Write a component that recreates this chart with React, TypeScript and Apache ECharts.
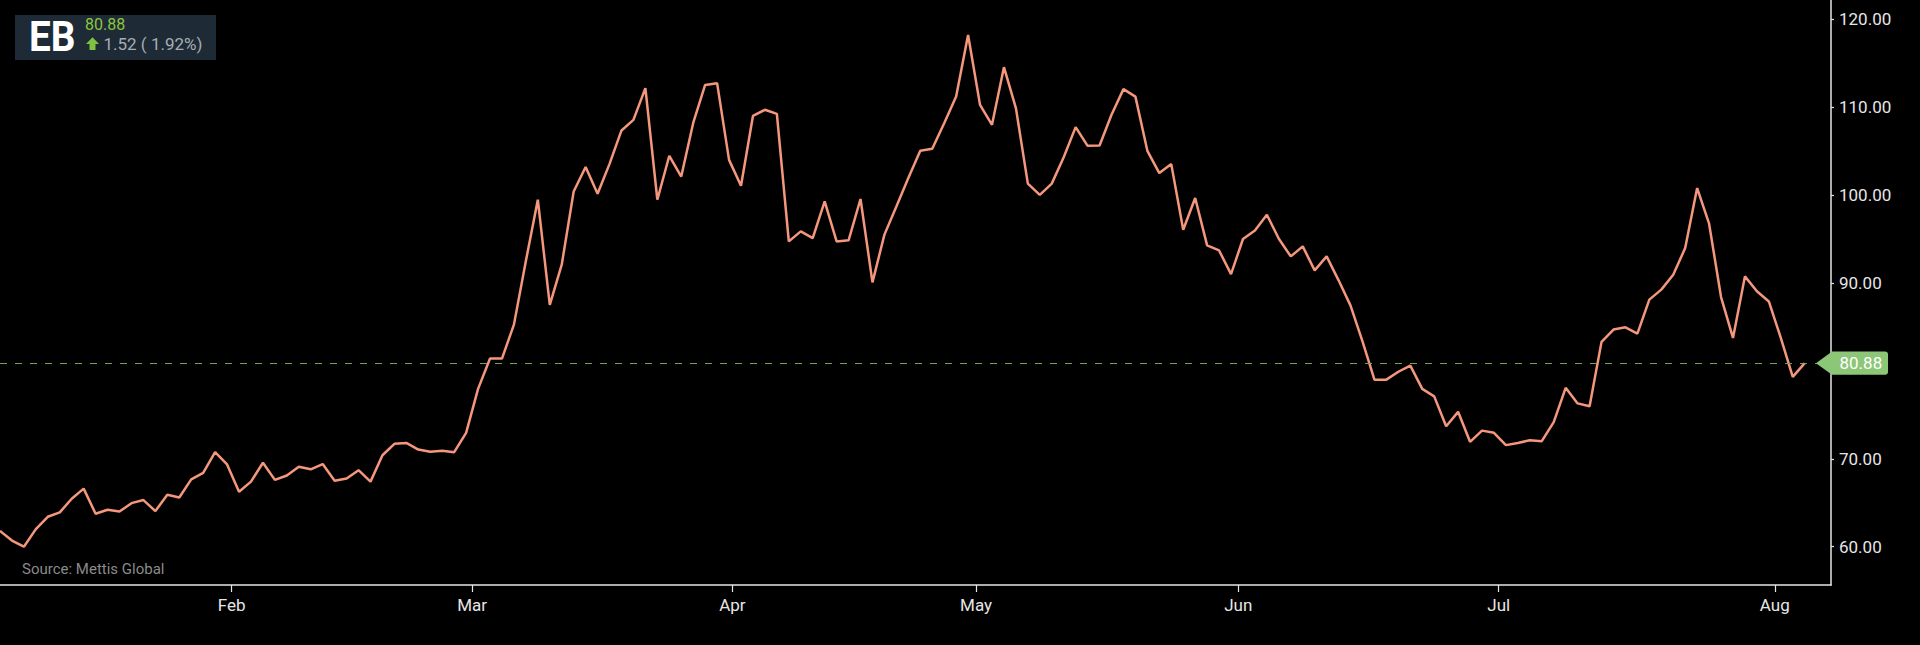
import React, { useEffect, useRef } from "react";
import * as echarts from "echarts";

const ticker = "EB";
const lastPrice = 80.88;
const changeAbs = 1.52;
const changePct = 1.92;
const sourceText = "Source: Mettis Global";

// daily closes (trading-day index order)
const prices = [
  61.8, 60.7, 60.0, 62.0, 63.4, 63.9, 65.45, 66.6, 63.75, 64.2,
  64.0, 64.95, 65.3, 64.05, 65.9, 65.6, 67.65, 68.4, 70.75, 69.35,
  66.25, 67.4, 69.55, 67.6, 68.1, 69.1, 68.8, 69.4, 67.5, 67.75,
  68.7, 67.4, 70.4, 71.7, 71.8, 71.05, 70.8, 70.9, 70.75, 72.95,
  77.95, 81.4, 81.4, 85.26, 92.5, 99.47, 87.5, 92.08, 100.4, 103.2,
  100.15, 103.55, 107.35, 108.55, 112.16, 99.47, 104.47, 102.1, 108.2, 112.53,
  112.73, 104.0, 101.05, 109.0, 109.7, 109.24, 94.73, 95.87, 95.1, 99.27,
  94.73, 94.85, 99.55, 90.07, 95.5, 98.7, 101.93, 105.03, 105.26, 108.18,
  111.2, 118.2, 110.26, 107.99, 114.55, 109.9, 101.3, 100.03, 101.3, 104.3,
  107.73, 105.6, 105.64, 109.13, 112.05, 111.2, 105.03, 102.5, 103.52, 96.06,
  99.66, 94.27, 93.7, 91.0, 95.0, 95.98, 97.76, 95.03, 93.02, 94.16,
  91.43, 93.02, 90.3, 87.42, 83.36, 79.0, 79.0, 79.9, 80.6, 77.95,
  77.1, 73.7, 75.34, 71.93, 73.2, 72.95, 71.55, 71.8, 72.1, 72.0,
  74.16, 78.07, 76.3, 75.98, 83.3, 84.7, 84.95, 84.24, 88.1, 89.24,
  90.94, 93.97, 100.8, 96.74, 88.4, 83.75, 90.75, 89.05, 87.9, 83.75,
  79.32, 80.88,
];

// month boundaries on the trading-day scale
const monthLabels = ["Feb", "Mar", "Apr", "May", "Jun", "Jul", "Aug"];
const monthTickPos = [19.39, 39.5, 61.28, 81.67, 103.6, 125.4, 148.5];

const yTickValues = [60, 70, 80, 90, 100, 110, 120];
const yLabelValues = [60, 70, 90, 100, 110, 120];

const xMax = 153.2;
const yMin = 55.64;
const yMax = 122.19;

export default function App() {
  const ref = useRef<HTMLDivElement>(null);

  useEffect(() => {
    document.body.style.margin = "0";
    document.body.style.background = "#000";
    const el = ref.current!;
    const chart = echarts.init(el, null, { renderer: "svg" });
    const data = prices.map((v, i) => [i, v]);
    const axisColor = "#e6e6e6";

    chart.setOption({
      animation: false,
      backgroundColor: "#000000",
      grid: { left: 0, right: 89, top: 0, bottom: 60 },
      xAxis: {
        type: "value",
        min: 0,
        max: xMax,
        axisLine: { show: true, onZero: false, lineStyle: { color: axisColor, width: 1.5 } },
        axisTick: {
          show: true,
          customValues: monthTickPos,
          length: 7,
          lineStyle: { color: axisColor, width: 1.2 },
        },
        axisLabel: {
          customValues: monthTickPos,
          formatter: (v: number) => {
            const i = monthTickPos.findIndex((p) => Math.abs(p - v) < 1e-6);
            return i >= 0 ? monthLabels[i] : "";
          },
          color: axisColor,
          fontFamily: "Roboto",
          fontSize: 17,
          margin: 11,
        },
        splitLine: { show: false },
      },
      yAxis: {
        type: "value",
        position: "right",
        min: yMin,
        max: yMax,
        axisLine: { show: true, onZero: false, lineStyle: { color: axisColor, width: 1.5 } },
        axisTick: {
          show: true,
          customValues: yTickValues,
          length: 3,
          lineStyle: { color: axisColor, width: 1.2 },
        },
        axisLabel: {
          customValues: yLabelValues,
          formatter: (v: number) => v.toFixed(2),
          color: axisColor,
          fontFamily: "Roboto",
          fontSize: 17,
          margin: 8,
        },
        splitLine: { show: false },
      },
      series: [
        {
          type: "line",
          data,
          symbol: "none",
          showSymbol: false,
          lineStyle: { color: "#f4977c", width: 2.5 },
          markLine: {
            silent: true,
            symbol: "none",
            label: { show: false },
            lineStyle: { color: "#72a35d", type: [7, 8], width: 1.2 },
            data: [{ yAxis: lastPrice }],
          },
        },
      ],
    });

    const gx = chart.convertToPixel({ xAxisIndex: 0 }, xMax) as number;
    const py = chart.convertToPixel({ yAxisIndex: 0 }, lastPrice) as number;
    const tagH = 23.4;
    const tagColor = "#8cc677";

    chart.setOption({
      graphic: [
        {
          type: "rect",
          z: 100,
          shape: { x: 15, y: 15, width: 201, height: 45 },
          style: { fill: "#1e2a35" },
        },
        {
          type: "text",
          z: 101,
          x: 29,
          y: 36,
          scaleX: 0.9,
          style: {
            text: ticker,
            fill: "#ffffff",
            fontFamily: "Roboto",
            fontWeight: "bold",
            fontSize: 43,
            verticalAlign: "middle",
            align: "left",
          },
        },
        {
          type: "text",
          z: 101,
          x: 85,
          y: 24,
          style: {
            text: lastPrice.toFixed(2),
            fill: "#8cc63f",
            fontFamily: "Roboto",
            fontSize: 16,
            verticalAlign: "middle",
            align: "left",
          },
        },
        {
          type: "polygon",
          z: 101,
          shape: {
            points: [
              [92.5, 37.3],
              [99, 44],
              [95.5, 44],
              [95.5, 50],
              [89.5, 50],
              [89.5, 44],
              [86, 44],
            ],
          },
          style: { fill: "#7ec242" },
        },
        {
          type: "text",
          z: 101,
          x: 103.5,
          y: 44,
          style: {
            text: `${changeAbs.toFixed(2)} ( ${changePct.toFixed(2)}%)`,
            fill: "#a6adb4",
            fontFamily: "Roboto",
            fontSize: 17,
            verticalAlign: "middle",
            align: "left",
          },
        },
        {
          type: "text",
          z: 101,
          x: 22,
          y: 569,
          style: {
            text: sourceText,
            fill: "#8a8a8a",
            fontFamily: "Roboto",
            fontSize: 15,
            verticalAlign: "middle",
            align: "left",
          },
        },
        {
          type: "polygon",
          z: 110,
          shape: {
            points: [
              [gx - 15, py],
              [gx + 1, py - tagH / 2],
              [gx + 1, py + tagH / 2],
            ],
          },
          style: { fill: tagColor },
        },
        {
          type: "rect",
          z: 110,
          shape: { x: gx, y: py - tagH / 2, width: 57, height: tagH, r: [0, 3, 3, 0] },
          style: { fill: tagColor },
        },
        {
          type: "text",
          z: 111,
          x: gx + 8.5,
          y: py,
          style: {
            text: lastPrice.toFixed(2),
            fill: "#ffffff",
            fontFamily: "Roboto",
            fontSize: 17,
            verticalAlign: "middle",
            align: "left",
          },
        },
      ],
    });

    return () => {
      chart.dispose();
    };
  }, []);

  return (
    <div
      ref={ref}
      style={{ width: 1920, height: 645, background: "#000", position: "absolute", left: 0, top: 0 }}
    />
  );
}
